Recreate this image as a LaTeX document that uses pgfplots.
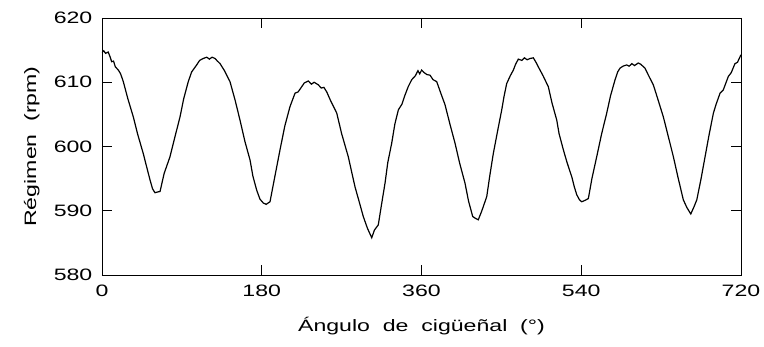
\documentclass[border=0pt]{standalone}
\usepackage{fontspec}
\setmainfont{Liberation Sans}[FakeStretch=1.4,WordSpace=2]
\usepackage{pgfplots}
\pgfplotsset{compat=1.18}
\begin{document}
\fontsize{16.5pt}{19pt}\selectfont
\begin{tikzpicture}
\begin{axis}[
  scale only axis,
  width=639pt, height=257pt,
  xmin=0, xmax=720, ymin=580, ymax=620,
  xtick={0,180,360,540,720},
  ytick={580,590,600,610,620},
  tick align=inside,
  major tick length=10pt,
  /pgf/number format/assume math mode=true,
  ticklabel style={font=\fontsize{16.5pt}{19pt}\selectfont},
  label style={font=\fontsize{16.5pt}{19pt}\selectfont},
  yticklabel style={xshift=-4pt},
  xticklabel style={yshift=-4pt},
  xlabel={Ángulo de cigüeñal (°)},
  ylabel={Régimen (rpm)},
  xlabel style={yshift=-10pt},
  ylabel style={yshift=3pt},
  axis line style={line width=0.9pt},
  every tick/.style={line width=0.9pt,black},
]
\addplot[black, line width=1.2pt] coordinates {
(0,614.6) (2,614.9) (4,614.5) (7,614.7) (9,614.0) (10.9,613.2) (13,613.3) (15,612.4) (18.4,611.9) (21,611.3) (24.0,610.1)
(29,607.5) (35.3,604.6) (40,602.0) (46.5,598.9) (50,597.0) (54.1,594.8) (57,593.4) (59.7,592.8) (62,592.9) (65.4,593.0)
(70,595.8) (76.6,598.4) (82,601.4) (87.9,604.6) (92,607.4) (97.2,610.1) (101,611.6) (106.7,612.7) (110,613.4) (114.1,613.7)
(118,613.9) (121,613.6) (124,613.9) (127.3,613.7) (130,613.3) (133.0,612.9) (138,611.8) (144.2,610.1) (150,607.2) (155.5,604.1)
(161,600.8) (166.8,597.9) (170,595.4) (174.3,593.2) (178,591.8) (181.8,591.2) (185,591.0) (189.3,591.4) (195,595.5) (200.6,599.5)
(206,603.2) (211.8,606.2) (217.5,608.3) (221,608.5) (225.0,609.3) (228,609.9) (232.5,610.2) (236,609.7) (239,610.0) (243.7,609.6)
(247,609.1) (250,609.2) (253.2,608.5) (258,607.0) (264.5,605.2) (270,602.0) (277.5,598.4) (285.1,593.7) (290,591.3) (294.4,589.1)
(299,587.3) (303.9,585.8) (307,587.0) (311.3,587.8) (315,591.0) (318.9,594.3) (322,597.5) (326.4,600.5) (330,603.5) (333.9,605.7)
(338,606.6) (341.4,608.0) (345,609.3) (349.0,610.4) (353,611.0) (356,611.8) (358,611.3) (360.2,611.9) (363,611.5) (366,611.2)
(369.6,611.1) (373,610.4) (377.1,610.1) (382,608.2) (386.5,606.5) (392,603.5) (397.8,600.5) (403,597.4) (409.0,594.3) (413,591.5)
(417.7,589.1) (421,588.8) (424.0,588.6) (428,590.0) (433.5,592.2) (437,595.5) (440.9,598.9) (446,602.6) (450.4,605.7) (453,607.8)
(456.0,609.8) (460,611.0) (463.5,611.9) (466,612.8) (469.1,613.6) (473,613.4) (476,613.8) (479,613.5) (482.3,613.7) (486,613.8)
(489,613.1) (491.6,612.4) (497,611.0) (502.9,609.3) (507,606.8) (512.4,604.1) (515,602.0) (519.8,599.5) (524,597.5) (529.3,595.3)
(532,593.8) (534.9,592.5) (538,591.7) (540.5,591.4) (544,591.6) (548.0,591.9) (552,595.0) (557.4,598.4) (563,602.0) (568.7,605.2)
(573,607.9) (578.1,610.4) (581,611.6) (583.7,612.2) (587,612.5) (591.2,612.7) (594,612.5) (597,612.9) (600,612.6) (604.3,613.0)
(607,612.8) (611.8,612.2) (616,611.0) (621.2,609.6) (626,607.5) (632.5,604.6) (638,601.6) (643.8,598.4) (649,595.2) (655.0,591.7)
(659,590.5) (663.4,589.5) (667,590.6) (670.2,591.7) (675,595.0) (679.5,598.4) (684,601.8) (688.9,605.2) (692,606.6) (696.4,608.3)
(700,608.8) (705.7,610.9) (709,611.5) (713.2,612.9) (716,613.1) (719.7,614.2) (720,614.2)
};
\coordinate (sw) at (rel axis cs:0,0);
\coordinate (ne) at (rel axis cs:1,1);
\end{axis}
\pgfresetboundingbox
\path ([shift={(-102pt,-72pt)}]sw) rectangle ([shift={(23pt,18pt)}]ne);
\end{tikzpicture}
\end{document}
